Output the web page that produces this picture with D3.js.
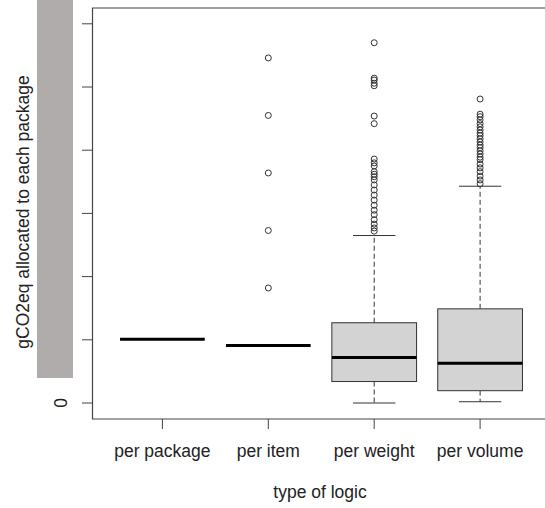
<!DOCTYPE html>
<html>
<head>
<meta charset="utf-8">
<script src="https://cdn.jsdelivr.net/npm/d3@7"></script>
<style>
  body { margin: 0; background: #fff; }
  svg { display: block; font-family: "Liberation Sans", Arial, sans-serif; }
</style>
</head>
<body>
<div id="chart"></div>
<script>
// categories and box statistics (gCO2eq)
var categories = ["per package", "per item", "per weight", "per volume"];
var whiskerLow = [101, 91, 0, 2];
var q1 = [101, 91, 34, 19.5];
var medians = [101, 91, 72, 63];
var q3 = [101, 91, 127, 149];
var whiskerHigh = [101, 91, 265, 343];
var outliers = [
    [],
    [182, 273, 364, 455, 546],
    [570, 514, 511, 506, 502, 454, 442, 386, 380, 375, 366, 362, 358, 353, 345, 337, 329, 321, 313, 305, 298, 290, 283, 277, 272],
    [481, 457, 453, 448, 442, 437, 432, 427, 423, 418, 413, 408, 404, 399, 394, 389, 385, 378, 372, 366, 359, 353, 347]
];
var yTicks = [0, 100, 200, 300, 400, 500, 600];

var width = 545, height = 508;

var svg = d3.select("#chart").append("svg")
    .attr("width", width)
    .attr("height", height);

// R style: x range 0.5..4.5 extended by 4%
var x = d3.scaleLinear().domain([0.34, 4.66]).range([92.5, 550]);
var y = d3.scaleLinear().domain([-25.3, 625]).range([419, 8]);

var boxW = x(1.8) - x(1);
var capW = boxW / 2;

var data = categories.map(function(c, i) {
    return { name: c, pos: i + 1, lo: whiskerLow[i], q1: q1[i], med: medians[i], q3: q3[i], hi: whiskerHigh[i], out: outliers[i] };
});

var g = svg.selectAll("g.box")
    .data(data)
    .enter().append("g")
    .attr("class", "box");

// whiskers (dashed)
g.append("line")
    .attr("x1", function(d) { return x(d.pos); })
    .attr("x2", function(d) { return x(d.pos); })
    .attr("y1", function(d) { return y(d.q3); })
    .attr("y2", function(d) { return y(d.hi); })
    .attr("stroke", "#333").attr("stroke-dasharray", "5,3");
g.append("line")
    .attr("x1", function(d) { return x(d.pos); })
    .attr("x2", function(d) { return x(d.pos); })
    .attr("y1", function(d) { return y(d.q1); })
    .attr("y2", function(d) { return y(d.lo); })
    .attr("stroke", "#333").attr("stroke-dasharray", "5,3");

// staples
g.append("line")
    .attr("x1", function(d) { return x(d.pos) - capW / 2; })
    .attr("x2", function(d) { return x(d.pos) + capW / 2; })
    .attr("y1", function(d) { return y(d.hi); })
    .attr("y2", function(d) { return y(d.hi); })
    .attr("stroke", "#333");
g.append("line")
    .attr("x1", function(d) { return x(d.pos) - capW / 2; })
    .attr("x2", function(d) { return x(d.pos) + capW / 2; })
    .attr("y1", function(d) { return y(d.lo); })
    .attr("y2", function(d) { return y(d.lo); })
    .attr("stroke", "#333");

// boxes
g.append("rect")
    .attr("x", function(d) { return x(d.pos) - boxW / 2; })
    .attr("width", boxW)
    .attr("y", function(d) { return y(d.q3); })
    .attr("height", function(d) { return y(d.q1) - y(d.q3); })
    .attr("fill", "#d3d3d3")
    .attr("stroke", "#333");

// medians
g.append("line")
    .attr("x1", function(d) { return x(d.pos) - boxW / 2; })
    .attr("x2", function(d) { return x(d.pos) + boxW / 2; })
    .attr("y1", function(d) { return y(d.med); })
    .attr("y2", function(d) { return y(d.med); })
    .attr("stroke", "#000")
    .attr("stroke-width", 3);

// outliers
g.selectAll("circle")
    .data(function(d) { return d.out.map(function(v) { return { pos: d.pos, v: v }; }); })
    .enter().append("circle")
    .attr("cx", function(d) { return x(d.pos); })
    .attr("cy", function(d) { return y(d.v); })
    .attr("r", 3)
    .attr("fill", "none")
    .attr("stroke", "#333");

// frame (right side runs off the picture)
svg.append("path")
    .attr("d", "M" + x.range()[1] + "," + y.range()[1] + "H" + x.range()[0] + "V" + y.range()[0] + "H" + x.range()[1])
    .attr("fill", "none")
    .attr("stroke", "#444")
    .attr("stroke-width", 1.2);

// y axis ticks and labels
svg.selectAll("line.ytick")
    .data(yTicks)
    .enter().append("line")
    .attr("class", "ytick")
    .attr("x1", 82).attr("x2", x.range()[0])
    .attr("y1", function(d) { return y(d); })
    .attr("y2", function(d) { return y(d); })
    .attr("stroke", "#444");
svg.selectAll("text.ylab")
    .data(yTicks)
    .enter().append("text")
    .attr("class", "ylab")
    .attr("transform", function(d) { return "translate(67," + y(d) + ") rotate(-90)"; })
    .attr("text-anchor", "middle")
    .attr("font-size", 17.5)
    .attr("fill", "#222")
    .text(function(d) { return d; });

// x axis ticks and labels
svg.selectAll("line.xtick")
    .data(data)
    .enter().append("line")
    .attr("class", "xtick")
    .attr("x1", function(d) { return x(d.pos); })
    .attr("x2", function(d) { return x(d.pos); })
    .attr("y1", y.range()[0]).attr("y2", 429)
    .attr("stroke", "#444");
svg.selectAll("text.xlab")
    .data(data)
    .enter().append("text")
    .attr("class", "xlab")
    .attr("x", function(d) { return x(d.pos); })
    .attr("y", 457)
    .attr("text-anchor", "middle")
    .attr("font-size", 17.5)
    .attr("fill", "#222")
    .text(function(d) { return d.name; });

// axis titles
svg.append("text")
    .attr("x", 320).attr("y", 498)
    .attr("text-anchor", "middle")
    .attr("font-size", 17.5)
    .attr("fill", "#222")
    .text("type of logic");
svg.append("text")
    .attr("transform", "translate(29,212) rotate(-90)")
    .attr("text-anchor", "middle")
    .attr("font-size", 17.5)
    .attr("fill", "#222")
    .text("gCO2eq allocated to each package");

// grey patch over the y tick labels
svg.append("rect")
    .attr("x", 37).attr("y", 0)
    .attr("width", 36).attr("height", 378)
    .attr("fill", "#b0acab");
</script>
</body>
</html>
